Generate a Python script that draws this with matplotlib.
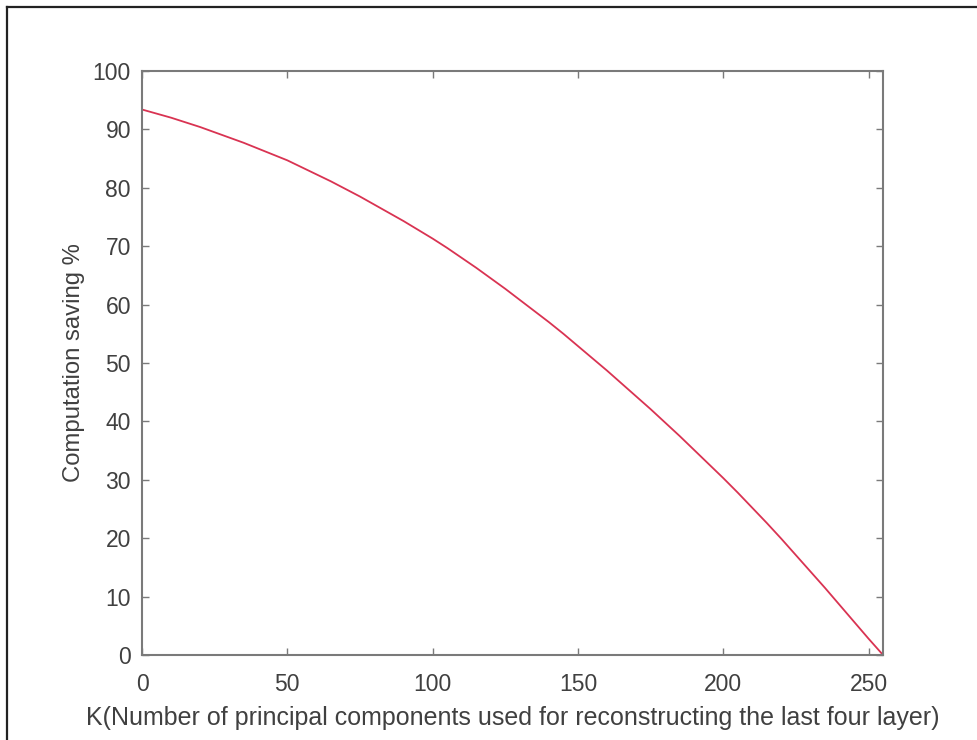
import matplotlib

matplotlib.use("Agg")
import matplotlib.pyplot as plt
from matplotlib.lines import Line2D

plt.rcParams["font.family"] = ["Liberation Sans", "DejaVu Sans"]

# values
k_values = [0, 5, 10, 15, 20, 25, 30, 35, 40, 45, 50, 55, 60, 65, 70, 75, 80,
            85, 90, 95, 100, 105, 110, 115, 120, 125, 130, 135, 140, 145, 150,
            155, 160, 165, 170, 175, 180, 185, 190, 195, 200, 205, 210, 215,
            220, 225, 230, 235, 240, 245, 250, 255]
saving_pct = [93.4, 92.7, 92.0, 91.2, 90.4, 89.5, 88.6, 87.7, 86.7, 85.7, 84.7,
              83.5, 82.3, 81.1, 79.8, 78.5, 77.1, 75.7, 74.3, 72.8, 71.3, 69.7,
              68.0, 66.3, 64.5, 62.7, 60.8, 58.9, 57.0, 55.0, 52.9, 50.8, 48.7,
              46.5, 44.3, 42.1, 39.8, 37.5, 35.1, 32.7, 30.3, 27.8, 25.2, 22.6,
              19.9, 17.1, 14.3, 11.5, 8.6, 5.7, 2.8, 0.0]
x_ticks = [0, 50, 100, 150, 200, 250]
y_ticks = list(range(0, 101, 10))

fig = plt.figure(figsize=(9.78, 7.40), dpi=100)
ax = fig.add_axes([0.1452, 0.1149, 0.7577, 0.7892])

ax.plot(k_values, saving_pct, color="#d93352", linewidth=1.3)
ax.set_xlim(0, 255)
ax.set_ylim(0, 100)
ax.set_xticks(x_ticks)
ax.set_yticks(y_ticks)

grey = "#7a7a7a"
for s in ax.spines.values():
    s.set_color(grey)
    s.set_linewidth(1.5)
ax.tick_params(direction="in", length=5, width=1, color=grey,
               top=True, right=True, labelsize=16.5, labelcolor="#404040")
ax.tick_params(axis="x", pad=13)
ax.tick_params(axis="y", pad=8)

ax.set_xlabel("K(Number of principal components used for reconstructing the last four layer)",
              fontsize=18, color="#404040", labelpad=7)
ax.set_ylabel("Computation saving %", fontsize=17.2, color="#404040", labelpad=5.5)

# thin frame at the top and left edge of the picture
fig.add_artist(Line2D([7 / 978, 1.0], [1 - 7 / 740, 1 - 7 / 740], color="#222222", linewidth=1.6))
fig.add_artist(Line2D([7 / 978, 7 / 978], [0.0, 1 - 7 / 740], color="#222222", linewidth=1.6))

fig.savefig("out.png", dpi=100)
